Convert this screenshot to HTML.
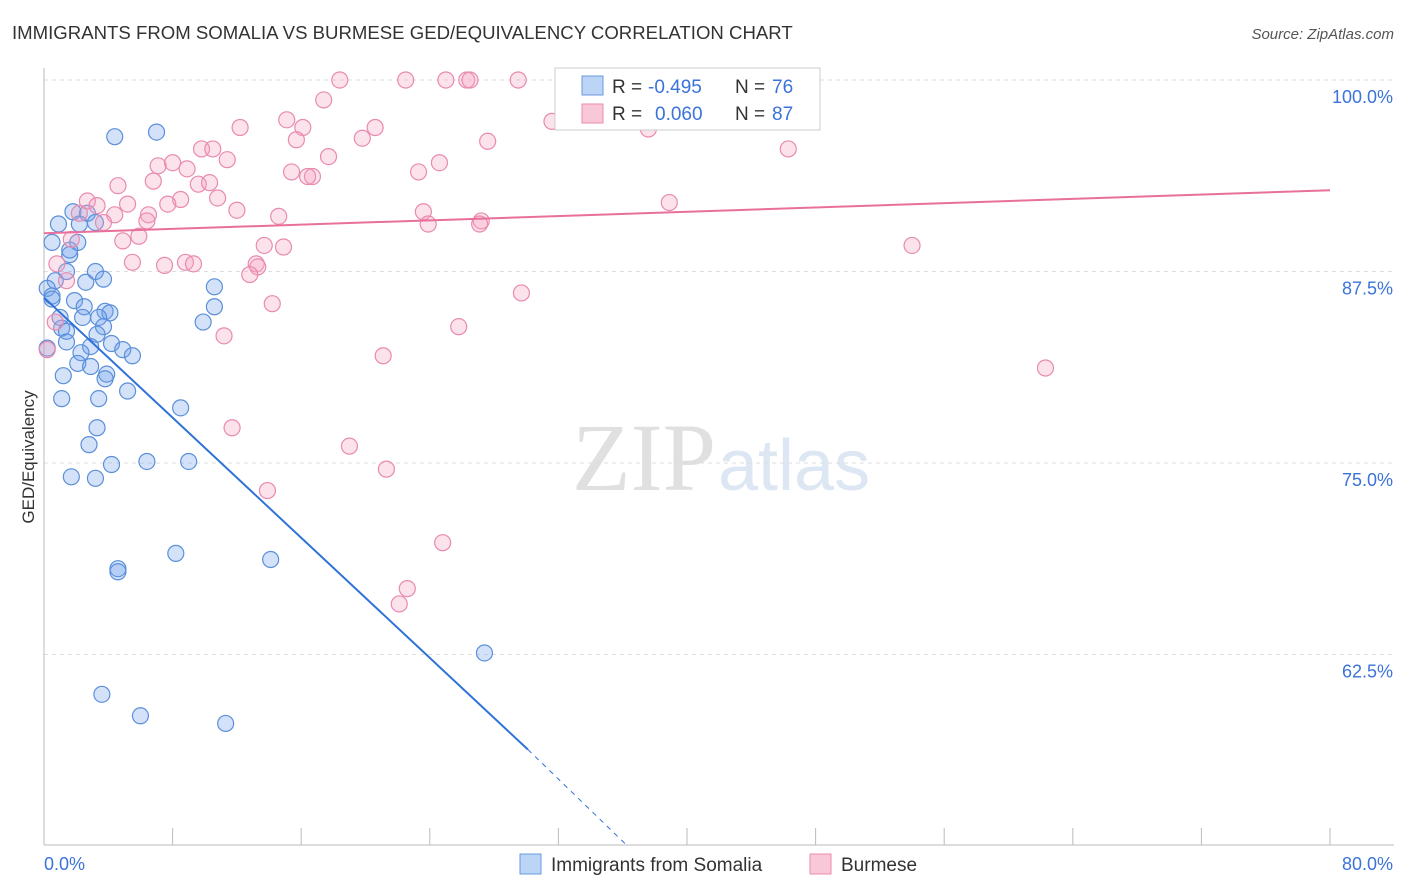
<!DOCTYPE html>
<html><head><meta charset="utf-8"><style>
body{margin:0;background:#fff;font-family:"Liberation Sans",sans-serif;}
svg{display:block}
</style></head><body>
<svg id="chart" width="1406" height="892">
<text x="12" y="39" font-size="18.6" fill="#333">IMMIGRANTS FROM SOMALIA VS BURMESE GED/EQUIVALENCY CORRELATION CHART</text>
<text x="1394" y="39" font-size="15" fill="#555" font-style="italic" text-anchor="end">Source: ZipAtlas.com</text>
<text x="716" y="490" font-size="96" fill="#e0e0e0" text-anchor="end" font-family="Liberation Serif">ZIP</text>
<text x="718" y="490" font-size="72" fill="#dde7f4">atlas</text>
<text transform="translate(34,457) rotate(-90)" font-size="17" fill="#333" text-anchor="middle">GED/Equivalency</text>
<g id="grid"></g><g id="axes"></g><g id="pts"></g><g id="trends"></g>
<g>
<rect x="555" y="68" width="265" height="62" fill="#fff" stroke="#ccc"/>
<rect x="582" y="76" width="21" height="19" fill="#bcd4f5" stroke="#6a9ae0"/>
<text x="612" y="93" font-size="19" fill="#333">R =</text>
<text x="648" y="93" font-size="19" fill="#3b73d9">-0.495</text>
<text x="735" y="93" font-size="19" fill="#333">N =</text>
<text x="772" y="93" font-size="19" fill="#3b73d9">76</text>
<rect x="582" y="104" width="21" height="19" fill="#f9c8d8" stroke="#e98ab0"/>
<text x="612" y="120" font-size="19" fill="#333">R =</text>
<text x="655" y="120" font-size="19" fill="#3b73d9">0.060</text>
<text x="735" y="120" font-size="19" fill="#333">N =</text>
<text x="772" y="120" font-size="19" fill="#3b73d9">87</text>
</g>
<g>
<rect x="520" y="854" width="21" height="20" fill="#bcd4f5" stroke="#6a9ae0"/>
<text x="551" y="871" font-size="19" fill="#333">Immigrants from Somalia</text>
<rect x="810" y="854" width="21" height="20" fill="#f9c8d8" stroke="#e98ab0"/>
<text x="841" y="871" font-size="19" fill="#333">Burmese</text>
</g>
</svg>
<script>
const xTicks=[0,8,16,24,32,40,48,56,64,72,80];
const yTicks=[100,87.5,75,62.5];
const yTickLabels=["100.0%","87.5%","75.0%","62.5%"];
const somaliaX=[4.4,7.0,1.8,0.9,2.7,2.2,3.2,0.5,2.1,1.6,1.6,1.4,3.2,3.7,2.6,0.7,0.2,0.5,1.9,2.5,10.6,10.6,9.9,3.8,4.1,2.4,1.0,3.4,1.1,1.4,3.7,3.3,1.4,2.9,4.2,4.9,5.5,2.3,0.2,2.1,2.9,1.2,3.9,3.8,5.2,1.1,3.4,8.5,3.3,2.8,6.4,9.0,4.2,1.7,3.2,8.2,14.1,4.6,4.6,27.4,3.6,6.0,11.3,0.5];
const somaliaY=[96.3,96.6,91.4,90.6,91.3,90.6,90.7,89.4,89.4,88.6,88.9,87.5,87.5,87.0,86.8,86.9,86.4,85.9,85.6,85.2,86.5,85.2,84.2,84.9,84.8,84.5,84.5,84.5,83.8,83.6,83.9,83.4,82.9,82.6,82.8,82.4,82.0,82.2,82.5,81.5,81.3,80.7,80.8,80.5,79.7,79.2,79.2,78.6,77.3,76.2,75.1,75.1,74.9,74.1,74.0,69.1,68.7,68.1,67.9,62.6,59.9,58.5,58.0,85.7];
const burmeseX=[18.4,22.5,25.0,26.3,26.5,29.5,32.3,17.4,31.6,37.6,12.2,15.1,16.1,20.6,19.8,15.7,27.6,46.3,9.8,10.5,11.4,17.7,24.6,7.1,8.0,8.9,15.4,16.7,16.4,23.3,6.8,9.6,10.3,4.6,8.5,7.7,2.7,3.3,5.2,10.8,38.9,12.0,6.5,4.4,2.2,14.6,23.6,6.4,3.7,27.2,27.1,23.9,5.9,4.9,1.7,13.7,14.9,54.0,0.8,5.5,7.5,8.8,9.3,13.2,13.3,12.8,1.4,29.7,14.2,25.8,11.2,21.1,62.3,11.7,19.0,21.3,13.9,24.8,22.6,22.1,0.2,0.7];
const burmeseY=[100,100,100,100,100,100,100,98.7,97.3,96.8,96.9,97.4,96.9,96.9,96.2,96.1,96.0,95.5,95.5,95.5,94.8,95.0,94.6,94.4,94.6,94.2,94.0,93.7,93.7,94.0,93.4,93.2,93.3,93.1,92.2,91.9,92.1,91.8,91.9,92.3,92.0,91.5,91.2,91.2,91.3,91.1,91.4,90.8,90.7,90.8,90.6,90.6,89.8,89.5,89.6,89.2,89.1,89.2,88.0,88.1,87.9,88.1,88.0,88.0,87.8,87.3,86.9,86.1,85.4,83.9,83.3,82.0,81.2,77.3,76.1,74.6,73.2,69.8,66.8,65.8,82.4,84.2];
const somaliaTrend=[[0,85.8],[30.1,56.3]];
const somaliaTrendDash=[[30.1,56.3],[36.3,50]];
const burmeseTrend=[[0,90.0],[80,92.8]];
const NS="http://www.w3.org/2000/svg";
const X=v=>44+v/80*1286, Y=v=>80+(100-v)/12.5*191.5;
function mk(t,a,p){const e=document.createElementNS(NS,t);for(const k in a)e.setAttribute(k,a[k]);document.getElementById(p).appendChild(e);return e;}
yTicks.forEach((t,i)=>{
 const g=mk('line',{x1:44,x2:1394,y1:Y(t),y2:Y(t),stroke:'#ddd','stroke-dasharray':'4,4'},'grid');
 
 
 const l=mk('text',{x:1393,y:Y(t)+23,'font-size':18,fill:'#3b73d9','text-anchor':'end'},'axes');l.textContent=yTickLabels[i];
 
 
});
mk('line',{x1:44,x2:1394,y1:845,y2:845,stroke:'#bbb'},'axes');
mk('line',{x1:44,x2:44,y1:68,y2:845,stroke:'#bbb'},'axes');
xTicks.forEach(t=>{const e=mk('line',{x1:X(t),x2:X(t),y1:828,y2:845,stroke:'#bbb'},'axes');
 
 });
[['0.0%',44,'start'],['80.0%',1393,'end']].forEach(a=>{const e=mk('text',{x:a[1],y:870,'font-size':18,fill:'#3b73d9','text-anchor':a[2]},'axes');e.textContent=a[0];
 
 });
somaliaX.forEach((v,i)=>{const c=mk('circle',{cx:X(v),cy:Y(somaliaY[i]),r:8,fill:'rgba(110,160,235,0.3)',stroke:'#5b8fd9','stroke-width':1.2},'pts');
 
 });
burmeseX.forEach((v,i)=>{const c=mk('circle',{cx:X(v),cy:Y(burmeseY[i]),r:8,fill:'rgba(245,160,190,0.3)',stroke:'#e98ab0','stroke-width':1.2},'pts');
 
 });
let t1=mk('line',{x1:X(somaliaTrend[0][0]),y1:Y(somaliaTrend[0][1]),x2:X(somaliaTrend[1][0]),y2:Y(somaliaTrend[1][1]),stroke:'#2f72d8','stroke-width':2},'trends');


let t2=mk('line',{x1:X(somaliaTrendDash[0][0]),y1:Y(somaliaTrendDash[0][1]),x2:X(somaliaTrendDash[1][0]),y2:Y(somaliaTrendDash[1][1]),stroke:'#2f72d8','stroke-width':1,'stroke-dasharray':'5,5'},'trends');


let t3=mk('line',{x1:X(burmeseTrend[0][0]),y1:Y(burmeseTrend[0][1]),x2:X(burmeseTrend[1][0]),y2:Y(burmeseTrend[1][1]),stroke:'#e8709b','stroke-width':2},'trends');


</script>
</body></html>
